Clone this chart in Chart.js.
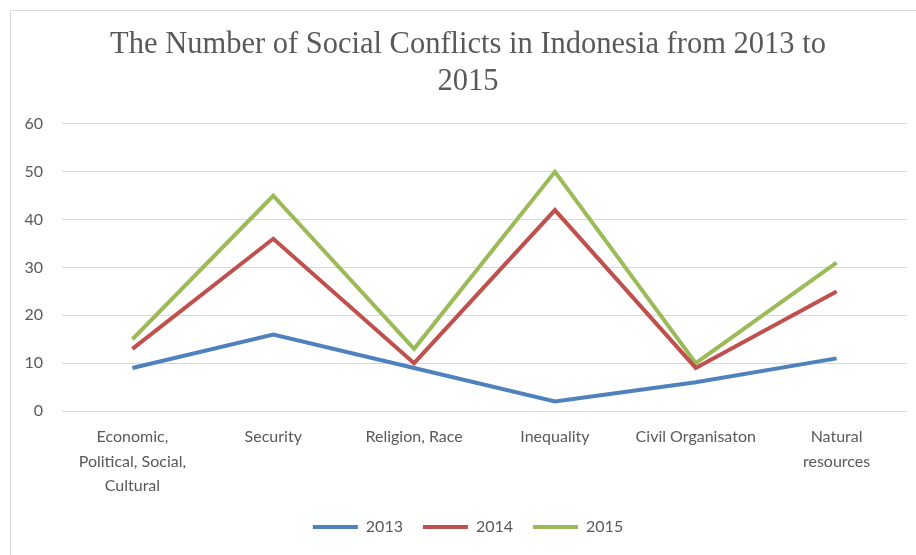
<!DOCTYPE html>
<html>
<head>
<meta charset="utf-8">
<script src="https://cdn.jsdelivr.net/npm/chart.js@4.4.1/dist/chart.umd.min.js"></script>
<style>
  html, body { margin: 0; padding: 0; background: #fff; overflow: hidden; }
  #wrap { position: relative; width: 916px; height: 555px; }
  #frame { position: absolute; left: 10px; top: 10px; width: 960px; height: 600px; border: 1px solid #d9d9d9; box-sizing: border-box; }
  canvas { position: absolute; left: 0; top: 0; }
</style>
</head>
<body>
<div id="wrap">
  <div id="frame"></div>
  <canvas id="myChart" width="916" height="555"></canvas>
</div>
<script>
// categories (multi-line labels like the original)
var categories = [
    ['Economic,', 'Political, Social,', 'Cultural'],
    'Security',
    'Religion, Race',
    'Inequality',
    'Civil Organisaton',
    ['Natural', 'resources']
];
var years = ['2013', '2014', '2015'];
var values2013 = [9, 16, 9, 2, 6, 11];
var values2014 = [13, 36, 10, 42, 9, 25];
var values2015 = [15, 45, 13, 50, 10, 31];
var yTicks = [0, 10, 20, 30, 40, 50, 60];

var colors = ['#4f81bd', '#c0504d', '#9bbb59'];
var textColor = '#595959';
var sansFont = 'Lato, "Noto Sans", sans-serif';

function makeSeries(label, data, color) {
    return {
        label: label,
        data: data,
        borderColor: color,
        backgroundColor: color,
        borderWidth: 4,
        pointRadius: 0,
        pointHoverRadius: 0,
        tension: 0,
        fill: false
    };
}

var ctx = document.getElementById('myChart');
var myChart = new Chart(ctx, {
    type: 'line',
    data: {
        labels: categories,
        datasets: [
            makeSeries(years[0], values2013, colors[0]),
            makeSeries(years[1], values2014, colors[1]),
            makeSeries(years[2], values2015, colors[2])
        ]
    },
    options: {
        responsive: false,
        animation: false,
        layout: { padding: { left: 20, right: 0, top: 0, bottom: 10 } },
        plugins: {
            title: {
                display: true,
                text: ['The Number of Social Conflicts in Indonesia from 2013 to', '2015'],
                color: textColor,
                font: { family: '"Liberation Serif", "Times New Roman", serif', size: 30.5, weight: 'normal', lineHeight: 1.213 },
                padding: { top: 26.5, bottom: 23.5 }
            },
            legend: {
                position: 'bottom',
                labels: {
                    usePointStyle: true,
                    pointStyle: 'line',
                    pointStyleWidth: 45,
                    padding: 20,
                    color: textColor,
                    font: { family: sansFont, size: 16 }
                }
            },
            tooltip: { enabled: false }
        },
        scales: {
            x: {
                offset: true,
                grid: { display: false, drawTicks: false },
                border: { display: false },
                afterFit: function (scale) { scale.height = 88; },
                ticks: {
                    color: textColor,
                    font: { family: sansFont, size: 16, lineHeight: 1.53 },
                    padding: 14,
                    maxRotation: 0,
                    minRotation: 0,
                    autoSkip: false
                }
            },
            y: {
                min: yTicks[0],
                max: yTicks[yTicks.length - 1],
                grid: { color: '#d9d9d9', lineWidth: 1, drawTicks: false },
                border: { display: false },
                afterFit: function (scale) { scale.width = 42; },
                afterBuildTicks: function (scale) {
                    scale.ticks = yTicks.map(function (v) { return { value: v }; });
                },
                ticks: {
                    color: textColor,
                    font: { family: sansFont, size: 16 },
                    padding: 19
                }
            },
            // empty right axis, only to keep the plot edge where the original has it
            yRight: {
                position: 'right',
                grid: { display: false, drawTicks: false },
                border: { display: false },
                ticks: { display: false },
                afterFit: function (scale) { scale.width = 9; }
            }
        }
    }
});
</script>
</body>
</html>
